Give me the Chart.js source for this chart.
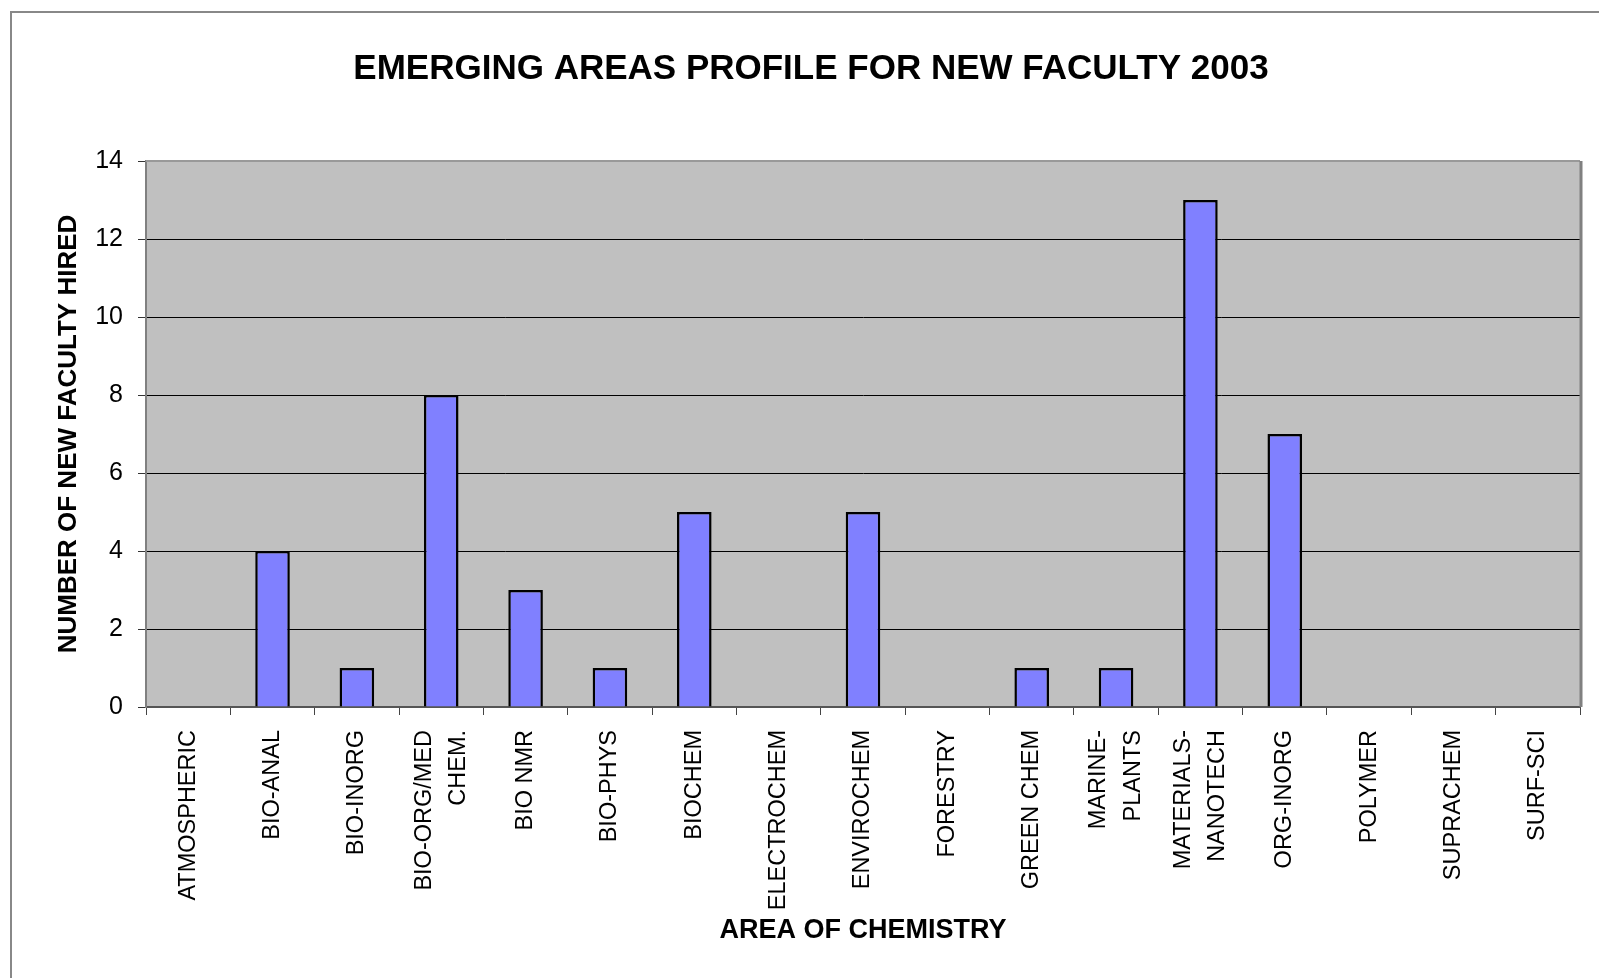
<!DOCTYPE html>
<html>
<head>
<meta charset="utf-8">
<title>Emerging areas profile for new faculty 2003</title>
<script src="https://cdn.jsdelivr.net/npm/chart.js@4.4.0/dist/chart.umd.min.js"></script>
<style>
  html, body { margin: 0; padding: 0; background: #fff; }
  #wrap { position: relative; width: 1599px; height: 978px; overflow: hidden; }
  #frame { position: absolute; left: 10px; top: 11px; right: -10px; bottom: -10px;
           border-left: 2px solid #888; border-top: 2px solid #888; }
  canvas { position: absolute; left: 0; top: 0; }
</style>
</head>
<body>
<div id="wrap">
  <div id="frame"></div>
  <canvas id="facultyChart" width="1599" height="978"></canvas>
</div>
<script>
const areas = ['ATMOSPHERIC', 'BIO-ANAL', 'BIO-INORG', ['BIO-ORG/MED', 'CHEM.'], 'BIO NMR', 'BIO-PHYS',
    'BIOCHEM', 'ELECTROCHEM', 'ENVIROCHEM', 'FORESTRY', 'GREEN CHEM', ['MARINE-', 'PLANTS'],
    ['MATERIALS-', 'NANOTECH'], 'ORG-INORG', 'POLYMER', 'SUPRACHEM', 'SURF-SCI'];
const facultyHired = [0, 4, 1, 8, 3, 1, 5, 0, 5, 0, 1, 1, 13, 7, 0, 0, 0];
const yTicks = [0, 2, 4, 6, 8, 10, 12, 14];

Chart.defaults.font.family = "'Liberation Sans', Arial, sans-serif";
Chart.defaults.color = '#000';

// grey plot area plus the top/right edges of the plot frame
const plotBackground = {
    id: 'plotBackground',
    beforeDraw(chart) {
        const { ctx, chartArea: a } = chart;
        ctx.save();
        ctx.fillStyle = '#C0C0C0';
        ctx.fillRect(a.left, a.top, a.right - a.left, a.bottom - a.top);
        ctx.restore();
    },
    beforeDatasetsDraw(chart) {
        const { ctx, chartArea: a } = chart;
        ctx.save();
        ctx.strokeStyle = '#999';
        ctx.lineWidth = 2;
        ctx.beginPath();
        ctx.moveTo(a.left, a.top);
        ctx.lineTo(a.right, a.top);
        ctx.stroke();
        ctx.strokeStyle = '#808080';
        ctx.lineWidth = 3;
        ctx.beginPath();
        ctx.moveTo(a.right + 1, a.top);
        ctx.lineTo(a.right + 1, a.bottom);
        ctx.stroke();
        ctx.restore();
    }
};

// two-line category labels are centred as a block under their bar
const centerMultiLineLabels = {
    id: 'centerMultiLineLabels',
    beforeDraw(chart) {
        const items = chart.scales.x.getLabelItems(chart.chartArea);
        items.forEach(item => {
            if (Array.isArray(item.label) && item.label.length > 1 && !item._centered) {
                item.options.translation[0] -= (item.label.length - 1) * item.font.lineHeight / 2;
                item._centered = true;
            }
        });
    }
};

const ctx = document.getElementById('facultyChart').getContext('2d');
const facultyChart = new Chart(ctx, {
    type: 'bar',
    data: {
        labels: areas,
        datasets: [{
            label: 'New faculty hired',
            data: facultyHired,
            backgroundColor: '#8080FF',
            borderColor: '#000',
            borderWidth: 2.5,
            barPercentage: 0.41,
            categoryPercentage: 1.0
        }]
    },
    options: {
        responsive: false,
        animation: false,
        devicePixelRatio: 1,
        layout: { padding: { left: 42, right: 19, top: 0, bottom: 0 } },
        plugins: {
            legend: { display: false },
            tooltip: { enabled: false },
            title: {
                display: true,
                text: 'EMERGING AREAS PROFILE FOR NEW FACULTY 2003',
                color: '#000',
                font: { size: 35, weight: 'bold' },
                padding: { top: 48, bottom: 71 }
            }
        },
        scales: {
            x: {
                afterFit(scale) { scale.height = 271; },
                grid: {
                    offset: true,
                    drawOnChartArea: false,
                    tickLength: 8,
                    color: '#444'
                },
                border: { color: '#555', width: 2 },
                ticks: {
                    autoSkip: false,
                    minRotation: 90,
                    maxRotation: 90,
                    padding: 15,
                    font: { size: 23.5, lineHeight: 1.46 }
                },
                title: {
                    display: true,
                    text: 'AREA OF CHEMISTRY',
                    font: { size: 27, weight: 'bold' },
                    padding: { top: 0, bottom: 31 }
                }
            },
            y: {
                min: 0,
                max: 14,
                afterFit(scale) { scale.width = 104; },
                afterBuildTicks(scale) { scale.ticks = yTicks.map(v => ({ value: v })); },
                grid: {
                    color: c => (c.tick && (c.tick.value === 0 || c.tick.value === 14)) ? 'rgba(0,0,0,0)' : '#000',
                    tickColor: '#333',
                    lineWidth: 1,
                    tickLength: 8
                },
                border: { color: '#808080', width: 2 },
                ticks: {
                    padding: 15,
                    font: { size: 25 }
                },
                title: {
                    display: true,
                    text: 'NUMBER OF NEW FACULTY HIRED',
                    font: { size: 26, weight: 'bold' },
                    padding: { top: 11, bottom: 0 }
                }
            }
        }
    },
    plugins: [plotBackground, centerMultiLineLabels]
});
</script>
</body>
</html>
